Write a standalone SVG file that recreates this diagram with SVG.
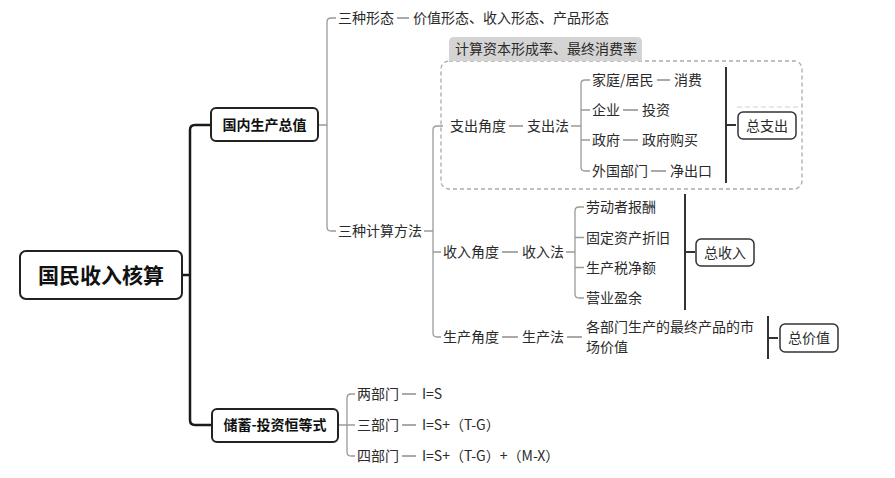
<svg xmlns="http://www.w3.org/2000/svg" width="895" height="478" viewBox="0 0 895 478">
<style>
text{font-family:"Noto Sans CJK SC","Noto Sans",sans-serif;font-size:14px;fill:#2a2a2a}
.b{font-weight:bold;fill:#111}
.root{font-size:21px}
.box{fill:#fff;stroke:#222;stroke-width:2}
.sbox{fill:#fff;stroke:#333;stroke-width:1.5}
.c0{fill:none;stroke:#1a1a1a;stroke-width:2.5}
.c1{fill:none;stroke:#9a9a9a;stroke-width:1.3}
.d{stroke:#555;stroke-width:1}
.sum{fill:none;stroke:#333;stroke-width:2}
.mid{text-anchor:middle}
</style>
<rect width="895" height="478" fill="#fff"/>
<g id="boundary">
<rect x="441" y="61" width="361" height="128" rx="8" fill="none" stroke="#aaa" stroke-width="1.3" stroke-dasharray="4 3"/>
<path d="M449,61 V42 Q449,37 454,37 H637 Q642,37 642,42 V61 Z" fill="#d4d4d4"/>
<text x="455" y="54">计算资本形成率、最终消费率</text>
<line x1="737" y1="107" x2="800" y2="107" stroke="#d0d0d0" stroke-width="1" stroke-dasharray="5 3"/>
</g>
<g id="connectors">
<path class="c0" d="M182,275 H190 M211,125 H195 Q190,125 190,130 V420 Q190,425 195,425 H212"/>
<path class="c1" d="M318,125 H327 M336,18 H331 Q327,18 327,22 V227 Q327,231 331,231 H336"/>
<path class="c1" d="M424,231 H433 M443,126 H437 Q433,126 433,130 V333 Q433,337 437,337 H441 M433,252 H441"/>
<path class="c1" d="M571,126 H581 M590,80 H585 Q581,80 581,84 V167 Q581,171 585,171 H590 M581,110 H590 M581,140 H590"/>
<path class="c1" d="M566,252 H575 M584,207 H579 Q575,207 575,211 V294 Q575,298 579,298 H584 M575,237.5 H584 M575,267.5 H584"/>
<path class="c1" d="M338,425 H347 M355,394 H351 Q347,394 347,398 V452 Q347,456 351,456 H355 M347,425 H355"/>
<line class="d" x1="397" y1="18" x2="409" y2="18"/>
<line class="d" x1="509" y1="126" x2="523" y2="126"/>
<line class="d" x1="657" y1="80" x2="670" y2="80"/>
<line class="d" x1="623" y1="110" x2="638" y2="110"/>
<line class="d" x1="623" y1="140" x2="638" y2="140"/>
<line class="d" x1="651" y1="171" x2="666" y2="171"/>
<line class="d" x1="502" y1="252" x2="518" y2="252"/>
<line class="d" x1="502" y1="337" x2="518" y2="337"/>
<line class="d" x1="567" y1="337" x2="582" y2="337"/>
<line class="d" x1="402" y1="394" x2="416" y2="394"/>
<line class="d" x1="402" y1="425" x2="416" y2="425"/>
<line class="d" x1="402" y1="456" x2="416" y2="456"/>
<path class="sum" d="M726,67 V183 M726,125 H736"/>
<path class="sum" d="M685,194 V310 M685,252 H695"/>
<path class="sum" d="M768,316 V359 M768,338 H778"/>
</g>
<g id="root">
<rect class="box" x="20" y="251" width="162" height="48" rx="6"/>
<text class="b root mid" x="101" y="283">国民收入核算</text>
</g>
<g id="gdp">
<rect class="box" x="211" y="108" width="107" height="33" rx="5"/>
<text class="b mid" x="264.5" y="130">国内生产总值</text>
</g>
<g id="forms">
<text x="338" y="23">三种形态</text>
<text x="413" y="23">价值形态、收入形态、产品形态</text>
</g>
<g id="methods">
<text x="338" y="236">三种计算方法</text>
</g>
<g id="expenditure">
<text x="450" y="131">支出角度</text>
<text x="527" y="131">支出法</text>
<text x="592" y="85">家庭/居民</text>
<text x="674" y="85">消费</text>
<text x="592" y="115">企业</text>
<text x="642" y="115">投资</text>
<text x="592" y="145">政府</text>
<text x="642" y="145">政府购买</text>
<text x="592" y="176">外国部门</text>
<text x="670" y="176">净出口</text>
</g>
<g id="total-expenditure">
<rect class="sbox" x="738" y="112" width="58" height="27" rx="5"/>
<text class="mid" x="767" y="130.5">总支出</text>
</g>
<g id="income">
<text x="443" y="257">收入角度</text>
<text x="522" y="257">收入法</text>
<text x="586" y="212">劳动者报酬</text>
<text x="586" y="242.5">固定资产折旧</text>
<text x="586" y="272.5">生产税净额</text>
<text x="586" y="303">营业盈余</text>
</g>
<g id="total-income">
<rect class="sbox" x="696" y="239" width="58" height="27" rx="5"/>
<text class="mid" x="725" y="257.5">总收入</text>
</g>
<g id="production">
<text x="443" y="342">生产角度</text>
<text x="522" y="342">生产法</text>
<text x="586" y="331.5">各部门生产的最终产品的市</text>
<text x="586" y="351.5">场价值</text>
</g>
<g id="total-value">
<rect class="sbox" x="780" y="324" width="58" height="28" rx="5"/>
<text class="mid" x="809" y="343">总价值</text>
</g>
<g id="saving">
<rect class="box" x="212" y="409" width="126" height="33" rx="5"/>
<text class="b mid" x="275" y="430">储蓄-投资恒等式</text>
</g>
<g id="sectors">
<text x="357" y="399">两部门</text>
<text x="422" y="399">I=S</text>
<text x="357" y="430">三部门</text>
<text x="422" y="430">I=S+（T-G）</text>
<text x="357" y="461">四部门</text>
<text x="422" y="461">I=S+（T-G）+（M-X）</text>
</g>
</svg>
